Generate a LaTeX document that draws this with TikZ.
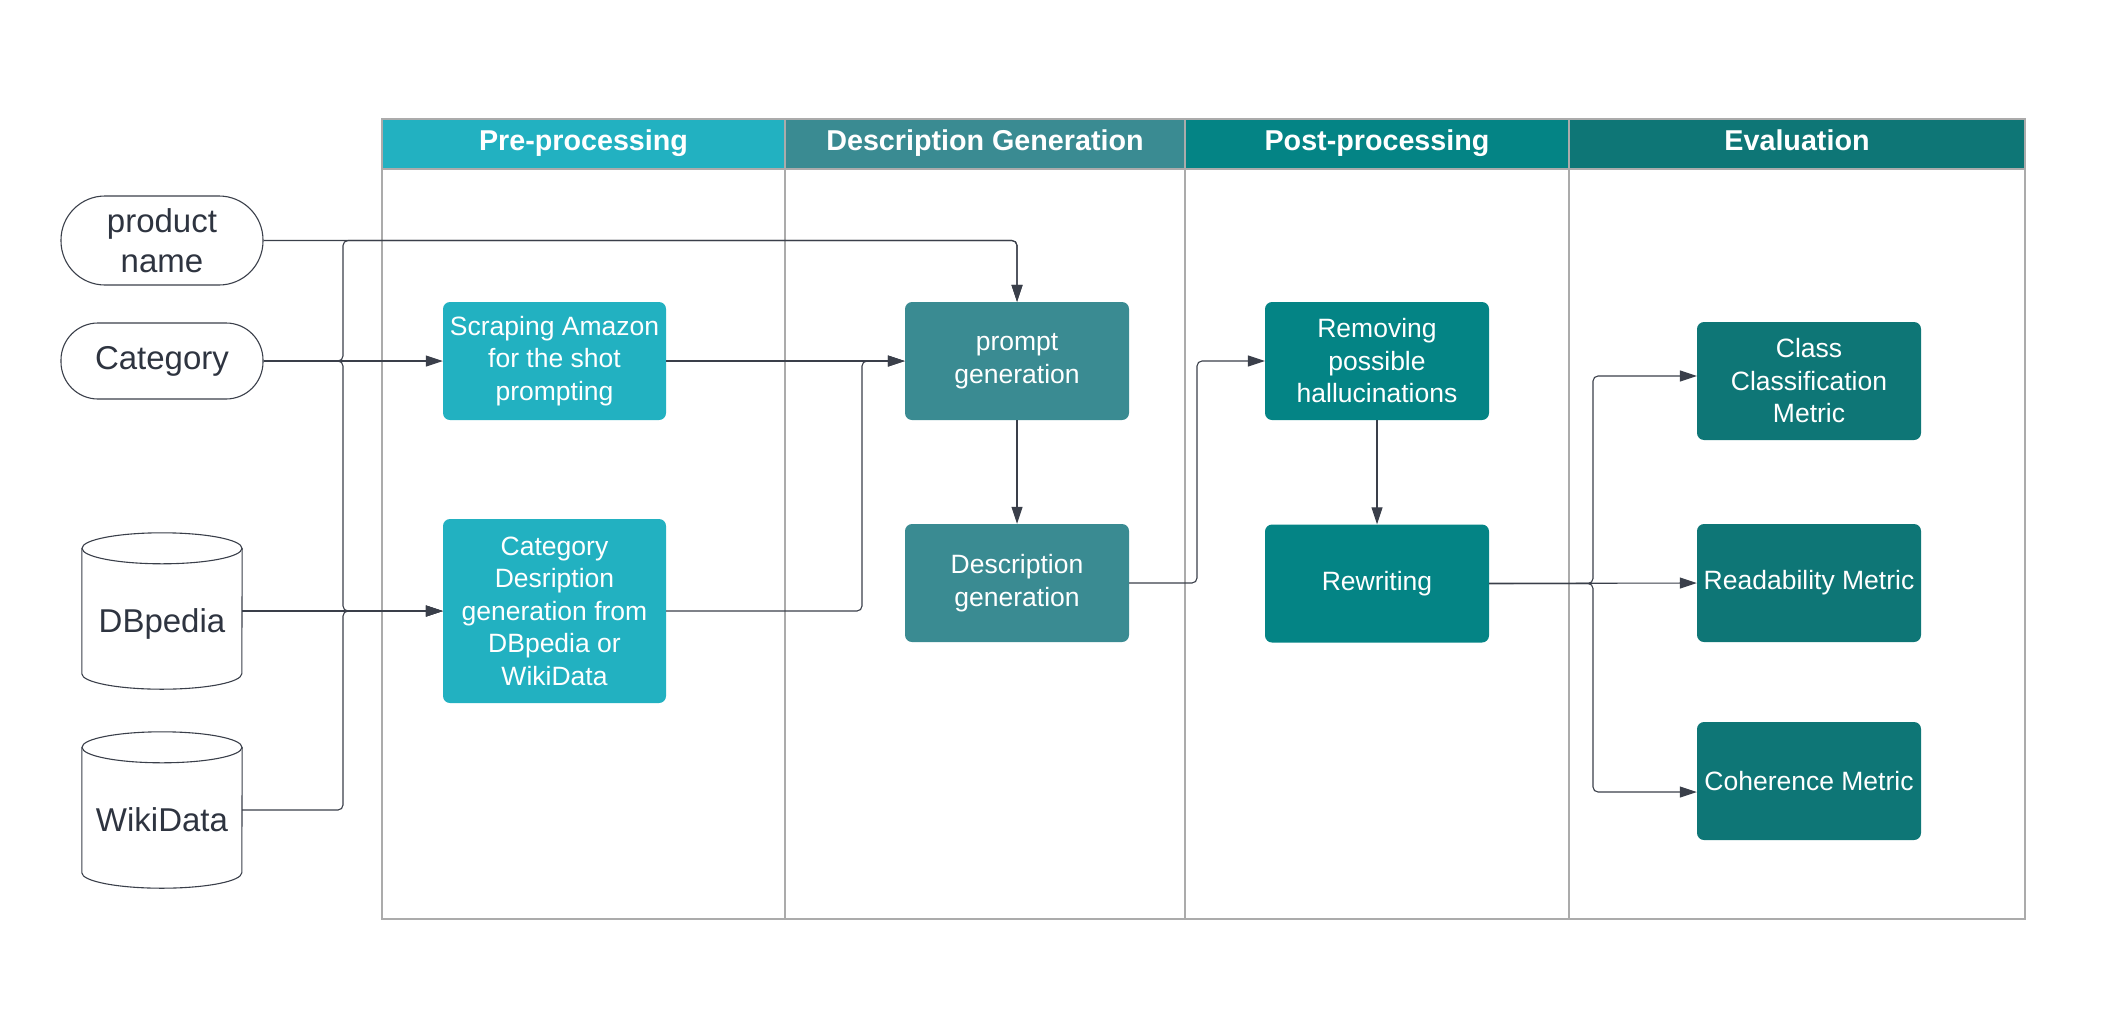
\documentclass[tikz,border=0pt]{standalone}
\usepackage{fontspec}
\setmainfont{Liberation Sans}
\usetikzlibrary{arrows.meta}

\definecolor{prec}{HTML}{22B1C1}
\definecolor{genc}{HTML}{3A8B92}
\definecolor{postc}{HTML}{048485}
\definecolor{evalc}{HTML}{0E7676}
\definecolor{linec}{HTML}{3A3F4A}
\definecolor{lanec}{HTML}{ABABAB}
\definecolor{inkc}{HTML}{2E3440}

\tikzset{
  lane/.style={draw=lanec, line width=2pt},
  lanehead/.style={lane, text=white, inner sep=0pt, minimum height=50pt,
    text height=20.5pt, text depth=8.5pt,
    font=\fontsize{28.7}{34}\selectfont\bfseries},
  input/.style={text=inkc, align=center, inner sep=0pt,
    font=\fontsize{33}{39.5}\selectfont},
  pill/.style={input, draw=linec, line width=1.1pt, minimum width=202pt},
  dbnode/.style={input, minimum width=160pt, minimum height=156pt,
    text height=50pt, text depth=7pt},
  dbline/.style={draw=linec, line width=1.1pt},
  task/.style={rounded corners=7pt, text=white, align=center, inner sep=0pt,
    minimum width=224pt, minimum height=118pt,
    font=\fontsize{26.5}{32.5}\selectfont},
  flow/.style={draw=linec, line width=1.1pt, rounded corners=5pt,
    -{Triangle[length=17pt,width=11pt]}},
}

\begin{document}
\begin{tikzpicture}[x=1pt,y=-1pt]
    \useasboundingbox (0,0) rectangle (2109,1028);

    % swimlanes
    \foreach \xa/\xb in {382/785,785/1185,1185/1569,1569/2025}
      \draw[lane] (\xa,169) rectangle (\xb,919);
    \node[lanehead, fill=prec,  minimum width=403pt] (hpre)  at (583.5,144) {Pre-processing};
    \node[lanehead, fill=genc,  minimum width=400pt] (hgen)  at (985,144)   {Description Generation};
    \node[lanehead, fill=postc, minimum width=384pt] (hpost) at (1377,144)  {Post-processing};
    \node[lanehead, fill=evalc, minimum width=456pt] (heval) at (1797,144)  {Evaluation};

    % inputs
    \node[pill, minimum height=89pt, rounded corners=44pt] (pname) at (162,240.5) {product\\name};
    \node[pill, minimum height=76pt, rounded corners=37pt] (cat)   at (162,361)   {Category};
    \node[dbnode] (dbpedia)  at (162,611) {DBpedia};
    \node[dbnode] (wikidata) at (162,810) {WikiData};
    \foreach \n in {dbpedia,wikidata}{
      \draw[dbline] ([yshift=-15.5pt]\n.north west) -- ([yshift=15.5pt]\n.south west)
        arc[start angle=180, end angle=360, x radius=80pt, y radius=15.5pt]
        -- ([yshift=-15.5pt]\n.north east);
      \draw[dbline] ([yshift=-15.5pt]\n.north) ellipse [x radius=80pt, y radius=15.5pt];
    }

    % steps
    \node[task, fill=prec, minimum width=223pt] (scrape)  at (554.5,361) {Scraping Amazon\\for the shot\\prompting};
    \node[task, fill=prec, minimum width=223pt, minimum height=184pt] (catdesc) at (554.5,611)
      {Category\\Desription\\generation from\\DBpedia or\\WikiData};
    \node[task, fill=genc]  (prompt)    at (1017,361)   {prompt\\generation};
    \node[task, fill=genc]  (descgen)   at (1017,583)   {Description\\generation};
    \node[task, fill=postc] (removing)  at (1377,361)   {Removing\\possible\\hallucinations};
    \node[task, fill=postc] (rewriting) at (1377,583.5) {Rewriting};
    \node[task, fill=evalc] (class)       at (1809,381) {Class\\Classification\\Metric};
    \node[task, fill=evalc] (readability) at (1809,583) {Readability Metric};
    \node[task, fill=evalc] (coherence)   at (1809,781) {Coherence Metric};

    % bus lines
    \coordinate (busin)   at (343,0);
    \coordinate (busgen)  at (862,0);
    \coordinate (buspost) at (1197,0);
    \coordinate (buseval) at (1593,0);

    \draw[flow] (pname.east) -| (prompt.north);
    \draw[flow] (cat.east) -- (cat.east -| busin) -- (pname.east -| busin) -| (prompt.north);
    \draw[flow] (cat.east) -- (scrape.west);
    \draw[flow] (cat.east) -- (cat.east -| busin) |- (catdesc.west);
    \draw[flow] (dbpedia.east) -- (catdesc.west);
    \draw[flow] (wikidata.east) -- (wikidata.east -| busin) |- (catdesc.west);
    \draw[flow] (scrape.east) -- (prompt.west);
    \draw[flow] (catdesc.east) -- (catdesc.east -| busgen) |- (prompt.west);
    \draw[flow] (prompt) -- (descgen);
    \draw[flow] (descgen.east) -- (descgen.east -| buspost) |- (removing.west);
    \draw[flow] (removing) -- (rewriting);
    \draw[flow] (rewriting.east) -- (rewriting.east -| buseval) |- ([yshift=5pt]class.west);
    \draw[flow] (rewriting.east) -- (readability.west);
    \draw[flow] (rewriting.east) -- (rewriting.east -| buseval) |- ([yshift=-11pt]coherence.west);

\end{tikzpicture}
\end{document}
